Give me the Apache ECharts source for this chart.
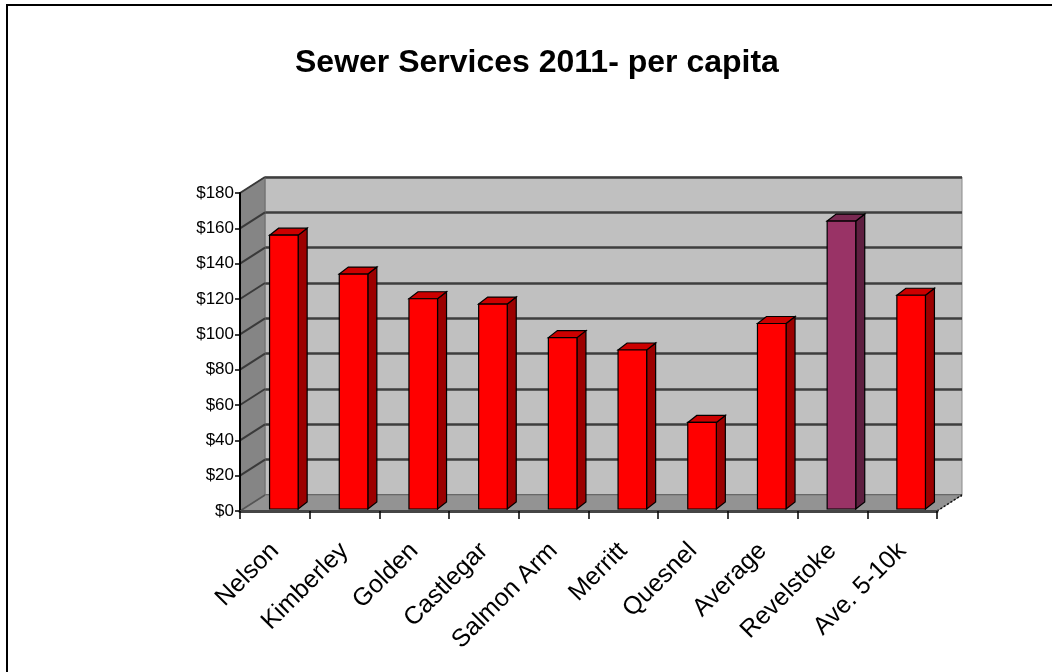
<!DOCTYPE html>
<html>
<head>
<meta charset="utf-8">
<title>Sewer Services 2011- per capita</title>
<script src="https://cdn.jsdelivr.net/npm/echarts@6/dist/echarts.min.js"></script>
<style>
  html, body { margin: 0; padding: 0; background: #ffffff; }
  #chart { width: 1052px; height: 672px; }
</style>
</head>
<body>
<div id="chart"></div>
<script>
// Sewer service cost per capita, 2011 (dollars)
const categories = ['Nelson', 'Kimberley', 'Golden', 'Castlegar', 'Salmon Arm', 'Merritt', 'Quesnel', 'Average', 'Revelstoke', 'Ave. 5-10k'];
const perCapita = [155, 133, 119, 116, 97, 90, 49, 105, 163, 121];
const highlighted = ['Revelstoke'];
const yTicks = [0, 20, 40, 60, 80, 100, 120, 140, 160, 180];

// Oblique projection: offset from the front plane to the back wall
const DEPTH_X = 25, DEPTH_Y = -16;
// Bars sit a little behind the front plane and have their own depth
const FACE_DX = 9, FACE_DY = -2;
const BAR_DX = 9, BAR_DY = -7;

const PALETTE = {
  normal: { front: '#ff0000', top: '#cc0000', side: '#9c0000' },
  focus:  { front: '#993366', top: '#7a2952', side: '#5e1f40' }
};

const font = 'Liberation Sans, Arial, sans-serif';
const barData = categories.map((c, i) => [i, perCapita[i], highlighted.includes(c) ? 1 : 0]);

function renderWalls(params, api) {
  const cs = params.coordSys;
  const left = cs.x, right = cs.x + cs.width, bottom = cs.y + cs.height, top = cs.y;
  const children = [];
  // left side wall
  children.push({
    type: 'polygon',
    shape: { points: [[left, top], [left + DEPTH_X, top + DEPTH_Y], [left + DEPTH_X, bottom + DEPTH_Y], [left, bottom]] },
    style: { fill: '#858585', stroke: '#6a6a6a', lineWidth: 1 }
  });
  // gridlines running across the side wall
  yTicks.forEach(v => {
    if (v === 0) return;
    const p = api.coord([0, v]);
    children.push({
      type: 'line',
      shape: { x1: left, y1: p[1], x2: left + DEPTH_X, y2: p[1] + DEPTH_Y },
      style: { stroke: '#3a3a3a', lineWidth: 2 }
    });
  });
  // floor
  children.push({
    type: 'polygon',
    shape: { points: [[left, bottom], [left + DEPTH_X, bottom + DEPTH_Y], [right + DEPTH_X, bottom + DEPTH_Y], [right, bottom]] },
    style: { fill: '#939393', stroke: '#7a7a7a', lineWidth: 1 }
  });
  children.push({
    type: 'line',
    shape: { x1: left, y1: bottom, x2: left + DEPTH_X, y2: bottom + DEPTH_Y },
    style: { stroke: '#555555', lineWidth: 1.5 }
  });
  children.push({
    type: 'line',
    shape: { x1: right, y1: bottom, x2: right + DEPTH_X, y2: bottom + DEPTH_Y },
    style: { stroke: '#111111', lineWidth: 1.5, lineDash: [2, 2] }
  });
  return { type: 'group', children };
}

function renderBar(params, api) {
  const idx = api.value(0);
  const topPt = api.coord([idx, api.value(1)]);
  const basePt = api.coord([idx, 0]);
  const bw = api.size([1, 0])[0] * 0.41;
  const c = api.value(2) ? PALETTE.focus : PALETTE.normal;
  const x0 = topPt[0] + FACE_DX - bw / 2;
  const x1 = x0 + bw;
  const yT = topPt[1] + FACE_DY;
  const yB = basePt[1] + FACE_DY;
  const edge = { stroke: '#000000', lineWidth: 1.2 };
  return {
    type: 'group',
    children: [
      { type: 'polygon', shape: { points: [[x1, yT], [x1 + BAR_DX, yT + BAR_DY], [x1 + BAR_DX, yB + BAR_DY], [x1, yB]] },
        style: Object.assign({ fill: c.side }, edge) },
      { type: 'polygon', shape: { points: [[x0, yT], [x0 + BAR_DX, yT + BAR_DY], [x1 + BAR_DX, yT + BAR_DY], [x1, yT]] },
        style: Object.assign({ fill: c.top }, edge) },
      { type: 'rect', shape: { x: x0, y: yT, width: bw, height: yB - yT },
        style: Object.assign({ fill: c.front }, edge) }
    ]
  };
}

const chart = echarts.init(document.getElementById('chart'), null, { renderer: 'canvas' });
chart.setOption({
  backgroundColor: '#ffffff',
  animation: false,
  title: {
    text: 'Sewer Services 2011- per capita',
    left: 290,
    top: 42,
    textStyle: { fontFamily: font, fontSize: 32, fontWeight: 'bold', color: '#000000' }
  },
  graphic: [{
    type: 'rect',
    shape: { x: 7, y: 5, width: 1200, height: 800 },
    style: { fill: 'none', stroke: '#000000', lineWidth: 2 },
    silent: true
  }],
  grid: [
    // back wall
    { left: 240 + DEPTH_X, top: 193 + DEPTH_Y, width: 697, height: 318, show: true,
      backgroundColor: '#c0c0c0', borderColor: '#8a8a8a', borderWidth: 1 },
    // front plane
    { left: 240, top: 193, width: 697, height: 318 }
  ],
  xAxis: [
    { gridIndex: 0, type: 'category', data: categories, show: false },
    { gridIndex: 1, type: 'category', data: categories, z: 6,
      axisLine: { show: true, lineStyle: { color: '#454545', width: 3 } },
      axisTick: { show: true, alignWithLabel: false, length: 8, lineStyle: { color: '#000000', width: 1.5 } },
      axisLabel: { rotate: 45, fontFamily: font, fontSize: 25, color: '#000000', margin: 36, interval: 0 } }
  ],
  yAxis: [
    { gridIndex: 0, type: 'value', min: 0, max: 180, interval: 20,
      axisLine: { show: false }, axisTick: { show: false }, axisLabel: { show: false },
      splitLine: { show: true, lineStyle: { color: '#3e3e3e', width: 2.5 } } },
    { gridIndex: 1, type: 'value', min: 0, max: 180, interval: 20, z: 6,
      axisLine: { show: true, lineStyle: { color: '#000000', width: 2 } },
      axisTick: { show: true, length: 5, lineStyle: { color: '#000000', width: 1.5 } },
      axisLabel: { fontFamily: font, fontSize: 17, color: '#000000', margin: 6, formatter: v => '$' + v },
      splitLine: { show: false } }
  ],
  series: [
    { type: 'custom', name: 'walls', xAxisIndex: 1, yAxisIndex: 1, z: 1, silent: true, clip: false,
      renderItem: renderWalls, data: [[0, 0]] },
    { type: 'custom', name: 'Sewer per capita', xAxisIndex: 1, yAxisIndex: 1, z: 3, clip: false,
      renderItem: renderBar, encode: { x: 0, y: 1 }, data: barData }
  ]
});
</script>
</body>
</html>
